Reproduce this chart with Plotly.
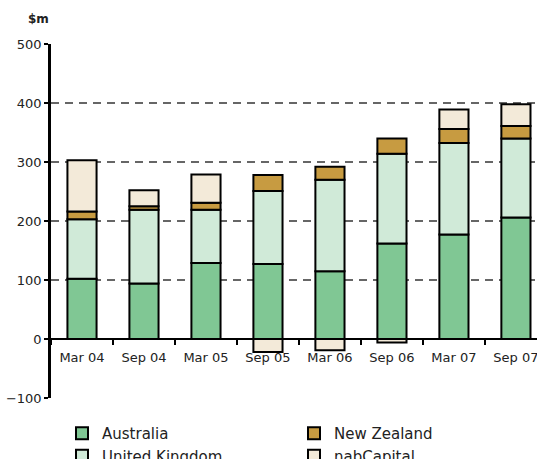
import plotly.graph_objects as go

periods = ["Mar 04", "Sep 04", "Mar 05", "Sep 05", "Mar 06", "Sep 06", "Mar 07", "Sep 07"]
australia = [102, 94, 129, 127, 115, 162, 177, 206]
united_kingdom = [101, 125, 90, 124, 155, 152, 155, 134]
new_zealand = [13, 6, 12, 27, 22, 26, 24, 21]
nab_capital = [87, 27, 48, -22, -19, -6, 33, 37]

series = [
    ("Australia", australia, "#80C794", 1),
    ("United Kingdom", united_kingdom, "#D0EAD8", 3),
    ("New Zealand", new_zealand, "#C79B41", 2),
    ("nabCapital", nab_capital, "#F3EAD9", 4),
]

fig = go.Figure()
for name, vals, color, rank in series:
    fig.add_trace(go.Bar(
        x=periods, y=vals, name=name, legendrank=rank,
        marker=dict(color=color, line=dict(color="black", width=2)),
        width=0.47,
    ))

fig.update_layout(
    barmode="relative",
    width=537, height=459,
    margin=dict(l=51, r=0, t=44, b=61, autoexpand=False),
    paper_bgcolor="white", plot_bgcolor="white",
    font=dict(family="DejaVu Sans, Verdana, sans-serif", size=13, color="#222"),
    showlegend=True,
    legend=dict(
        orientation="h", xref="container", yref="container",
        x=62 / 537, y=1 - 417 / 459, xanchor="left", yanchor="top",
        entrywidth=187, entrywidthmode="pixels",
        font=dict(size=15, color="#222"),
        tracegroupgap=0, itemwidth=30,
    ),
    annotations=[dict(
        text="<b>$m</b>", xref="paper", yref="paper", x=-0.025, y=1.07,
        xanchor="center", yanchor="middle", showarrow=False,
        font=dict(size=12, color="#222"),
    )],
)

fig.update_yaxes(
    range=[-100, 500], tickvals=[-100, 0, 100, 200, 300, 400, 500],
    showgrid=True, gridcolor="#666", griddash="8px,6px", gridwidth=1.5,
    zeroline=False, showline=True, linecolor="black", linewidth=2.5,
    ticks="outside", ticklen=4, tickwidth=2, tickcolor="black",
)
fig.update_xaxes(
    type="category", range=[-0.5, 7.34],
    anchor="free", position=100 / 600,
    showline=True, linecolor="black", linewidth=2,
    ticks="outside", tickson="boundaries", ticklen=5, tickwidth=2, tickcolor="black",
    ticklabelstandoff=6,
    showgrid=False, zeroline=False,
)

fig.write_html("out.html")
